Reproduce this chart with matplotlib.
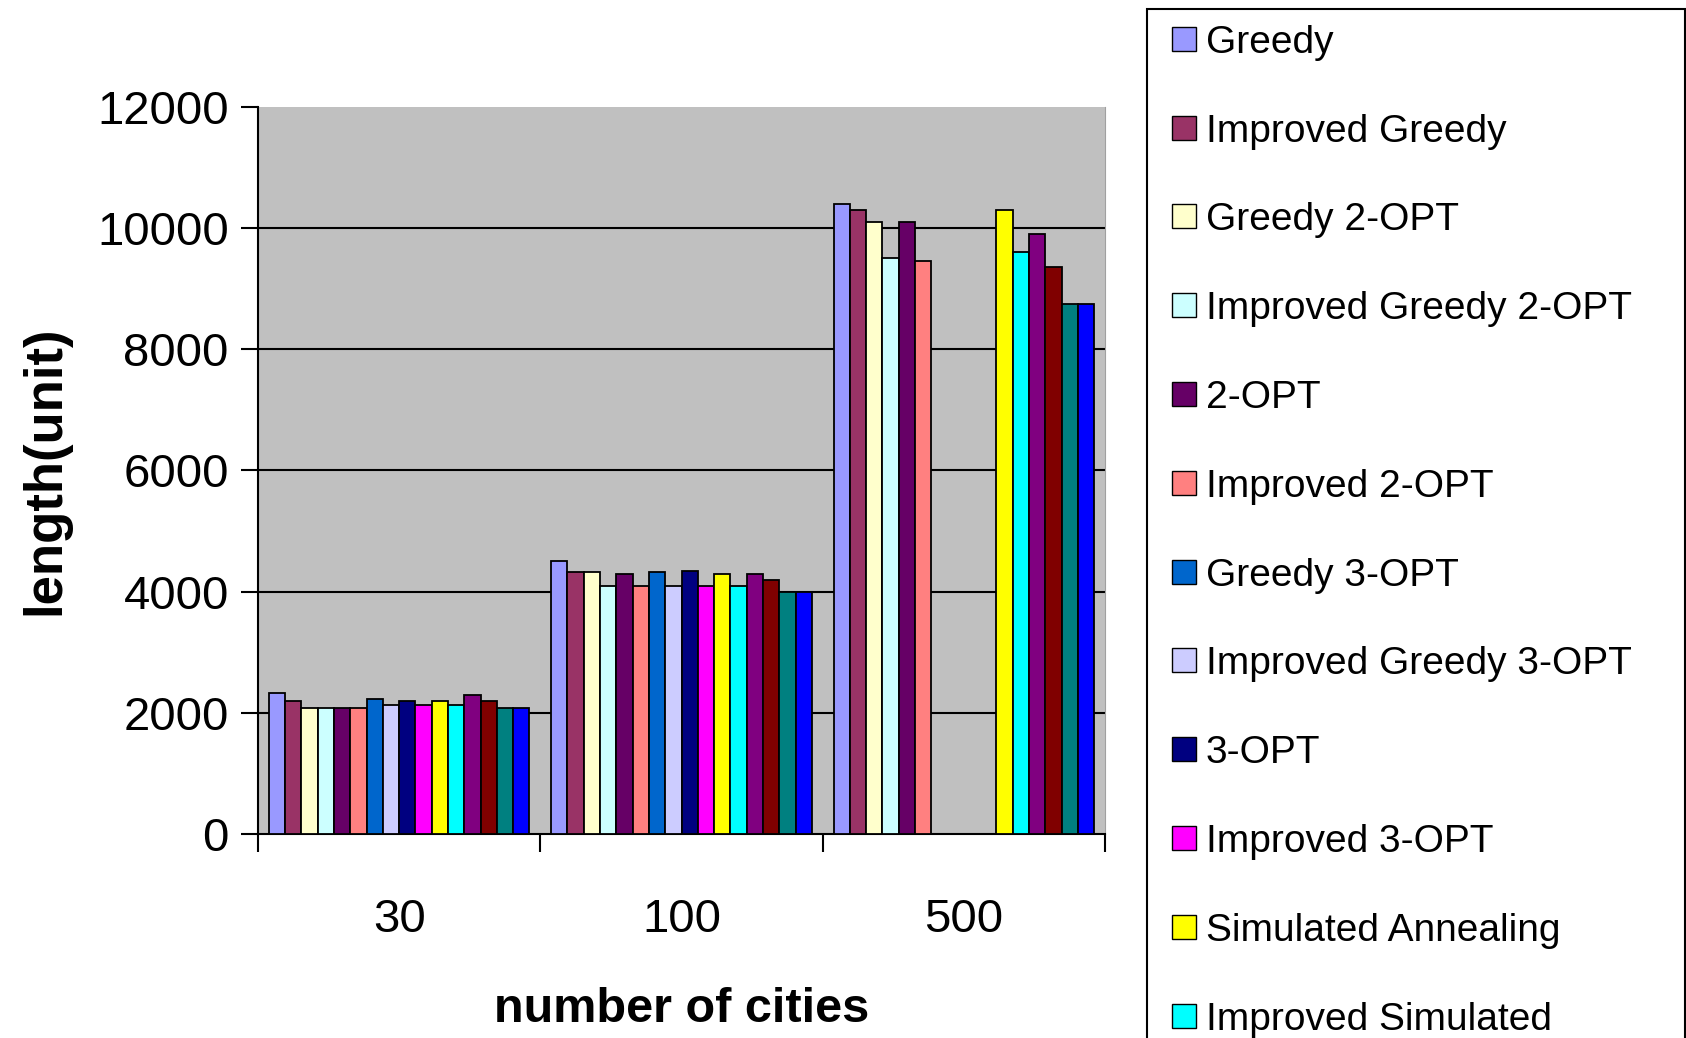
import numpy as np
import matplotlib.pyplot as plt
from matplotlib.patches import Rectangle

plt.rcParams['font.family'] = ['Liberation Sans', 'DejaVu Sans']

# problem sizes on the x axis
cities = ['30', '100', '500']

methods = ['Greedy', 'Improved Greedy', 'Greedy 2-OPT', 'Improved Greedy 2-OPT',
           '2-OPT', 'Improved 2-OPT', 'Greedy 3-OPT', 'Improved Greedy 3-OPT',
           '3-OPT', 'Improved 3-OPT', 'Simulated Annealing',
           'Improved Simulated\nAnnealing', 'Series13', 'Series14', 'Series15', 'Series16']

colors = ['#9999FF', '#993366', '#FFFFCC', '#CCFFFF', '#660066', '#FF8080',
          '#0066CC', '#CCCCFF', '#000080', '#FF00FF', '#FFFF00', '#00FFFF',
          '#800080', '#800000', '#008080', '#0000FF']

# tour length per method, one list per number of cities (nan = not run)
len_30 = [2330, 2200, 2090, 2090, 2090, 2090, 2230, 2130,
          2200, 2130, 2200, 2130, 2290, 2200, 2090, 2090]
len_100 = [4500, 4330, 4330, 4100, 4300, 4100, 4330, 4100,
           4335, 4100, 4300, 4100, 4300, 4200, 4000, 4000]
len_500 = [10400, 10300, 10100, 9500, 10100, 9450, np.nan, np.nan,
           np.nan, np.nan, 10300, 9600, 9900, 9350, 8750, 8750]

W, H = 1686, 1038
fig = plt.figure(figsize=(W / 100, H / 100), dpi=100)
ax = fig.add_axes([258 / W, 1 - 834.4 / H, (1105 - 258) / W, (834.4 - 106.5) / H])
ax.set_facecolor('#C0C0C0')

lengths = np.array([len_30, len_100, len_500])
n = len(methods)
group = 0.923
bw = group / n
x = np.arange(len(cities))
for i in range(n):
    ax.bar(x - group / 2 + bw * (i + 0.5), lengths[:, i], width=bw, color=colors[i],
           edgecolor='black', linewidth=1.3, zorder=3)

ax.set_xlim(-0.5, 2.5)
ax.set_ylim(0, 12000)
yticks = np.arange(0, 12001, 2000)
ax.set_yticks(yticks)
for v in yticks[1:-1]:
    ax.axhline(v, color='black', linewidth=1.5, zorder=1)

ax.set_xticks(x)
ax.set_xticklabels(cities)
ax.set_xticks(np.arange(-0.5, 3, 1), minor=True)
ax.tick_params(axis='x', which='major', length=0, pad=46, labelsize=34)
ax.tick_params(axis='x', which='minor', length=13, width=1.5, direction='out')
ax.tick_params(axis='y', length=12, width=1.5, pad=9, labelsize=34)

ax.spines['top'].set_visible(False)
ax.spines['right'].set_color('#a0a0a0')
ax.spines['left'].set_linewidth(1.5)
ax.spines['bottom'].set_linewidth(1.5)

ax.set_xlabel('number of cities', fontsize=35, fontweight='bold')
ax.xaxis.set_label_coords(0.5, -0.21)
ax.set_ylabel('length(unit)', fontsize=38, fontweight='bold', va='center')
ax.yaxis.set_label_coords(-0.2515, 0.5)


# legend box on the right, running past the bottom of the figure
def px(xp, yp):
    return (xp / W, 1 - yp / H)


fig.add_artist(Rectangle(px(1147, 1100), (1684.5 - 1147) / W, (1100 - 9) / H,
                         transform=fig.transFigure, facecolor='white',
                         edgecolor='black', linewidth=1.5))
for i, (name, c) in enumerate(zip(methods, colors)):
    yc = 38.7 + i * 88.8
    if yc - 14 > H:
        break
    fig.add_artist(Rectangle(px(1172, yc + 12), 24 / W, 24 / H, transform=fig.transFigure,
                             facecolor=c, edgecolor='black', linewidth=1.0))
    fig.text(1206 / W, 1 - (yc - 14) / H, name, fontsize=28, va='top', ha='left')

fig.savefig('out.png', dpi=100)
